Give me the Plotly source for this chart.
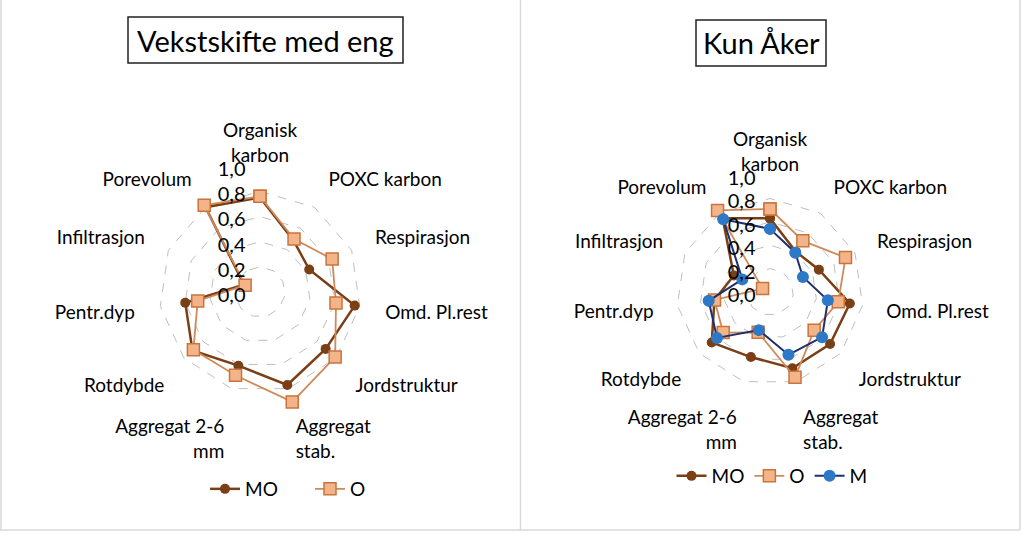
import plotly.graph_objects as go

categories = ["Organisk<br>karbon", "POXC karbon", "Respirasjon", "Omd. Pl.rest",
              "Jordstruktur", "Aggregat<br>stab.", "Aggregat 2-6<br>mm", "Rotdybde",
              "Pentr.dyp", "Infiltrasjon", "Porevolum"]

# Vekstskifte med eng
left_MO = [0.75, 0.49, 0.43, 0.76, 0.69, 0.77, 0.61, 0.71, 0.60, 0.14, 0.80]
left_O = [0.76, 0.50, 0.63, 0.61, 0.79, 0.91, 0.69, 0.70, 0.50, 0.13, 0.82]

# Kun Åker
right_MO = [0.63, 0.41, 0.46, 0.69, 0.68, 0.68, 0.58, 0.66, 0.48, 0.34, 0.75]
right_O = [0.71, 0.52, 0.71, 0.59, 0.50, 0.76, 0.36, 0.53, 0.48, 0.07, 0.83]
right_M = [0.54, 0.40, 0.31, 0.50, 0.59, 0.56, 0.34, 0.60, 0.53, 0.26, 0.74]

tick_vals = [0.0, 0.2, 0.4, 0.6, 0.8, 1.0]

FONT = "Lato"
C_MO = "#7B3F16"
C_O_LINE = "#D08A5A"
C_O_FILL = "#F4B48A"
C_O_EDGE = "#C8743C"
C_M_LINE = "#1F2F6B"
C_M_FILL = "#2E78C8"


def closed(vals):
    return list(vals) + [vals[0]]


def styles(name):
    if name == "MO":
        return dict(line=dict(color=C_MO, width=2.5),
                    marker=dict(symbol="circle", size=10, color=C_MO))
    if name == "O":
        return dict(line=dict(color=C_O_LINE, width=1.8),
                    marker=dict(symbol="square", size=12, color=C_O_FILL,
                                line=dict(color=C_O_EDGE, width=1.5)))
    return dict(line=dict(color=C_M_LINE, width=2),
                marker=dict(symbol="circle", size=12, color=C_M_FILL))


fig = go.Figure()
for name, vals in [("MO", left_MO), ("O", left_O)]:
    fig.add_trace(go.Scatterpolar(r=closed(vals), theta=closed(categories),
                                  mode="lines+markers", name=name, subplot="polar",
                                  legend="legend", **styles(name)))
for name, vals in [("MO", right_MO), ("O", right_O), ("M", right_M)]:
    fig.add_trace(go.Scatterpolar(r=closed(vals), theta=closed(categories),
                                  mode="lines+markers", name=name, subplot="polar2",
                                  legend="legend2", **styles(name)))

W, H = 1024, 535


def polar_layout(cx, cy, R):
    return dict(
        domain=dict(x=[(cx - R) / W, (cx + R) / W],
                    y=[(H - cy - R) / H, (H - cy + R) / H]),
        gridshape="linear",
        bgcolor="white",
        radialaxis=dict(range=[0, 1.001], tickvals=tick_vals, tickformat=".1f",
                        angle=90, side="counterclockwise", showline=False,
                        ticks="", showgrid=True, gridcolor="#BFBFBF", griddash="dash",
                        gridwidth=1, tickfont=dict(family=FONT, size=20, color="black")),
        angularaxis=dict(rotation=90, direction="clockwise", showgrid=False,
                         showline=False, ticks="",
                         tickfont=dict(family=FONT, size=19, color="black")),
    )


fig.update_layout(
    width=W, height=H,
    margin=dict(l=0, r=0, t=0, b=0),
    paper_bgcolor="white",
    separators=", ",
    font=dict(family=FONT, color="black"),
    polar=polar_layout(260, 292, 126),
    polar2=polar_layout(770, 292, 117),
    legend=dict(orientation="h", x=205 / W, xanchor="left", y=(H - 489) / H,
                yanchor="middle", entrywidth=60, entrywidthmode="pixels",
                font=dict(family=FONT, size=19), bgcolor="rgba(0,0,0,0)"),
    legend2=dict(orientation="h", x=772 / W, xanchor="center", y=(H - 476) / H,
                 yanchor="middle", font=dict(family=FONT, size=19), bgcolor="rgba(0,0,0,0)"),
    showlegend=True,
)

# panel frames
frame = dict(type="line", xref="paper", yref="paper", line=dict(color="#D9D9D9", width=1.5))
fig.add_shape(x0=1 / W, x1=1 / W, y0=(H - 530) / H, y1=1, **frame)
fig.add_shape(x0=520.5 / W, x1=520.5 / W, y0=(H - 530) / H, y1=1, **frame)
fig.add_shape(x0=1020 / W, x1=1020 / W, y0=(H - 530) / H, y1=1, **frame)
fig.add_shape(x0=0, x1=1020 / W, y0=(H - 530) / H, y1=(H - 530) / H, **frame)

# title boxes
box = dict(type="rect", xref="paper", yref="paper", line=dict(color="#222222", width=1.5),
           fillcolor="rgba(0,0,0,0)")
fig.add_shape(x0=128 / W, x1=403 / W, y0=(H - 63) / H, y1=(H - 17) / H, **box)
fig.add_shape(x0=696 / W, x1=826 / W, y0=(H - 66) / H, y1=(H - 20) / H, **box)
fig.add_annotation(text="Vekstskifte med eng", x=265.5 / W, y=(H - 40) / H, xref="paper",
                   yref="paper", xanchor="center", yanchor="middle", showarrow=False,
                   font=dict(family=FONT, size=29, color="black"))
fig.add_annotation(text="Kun Åker", x=761 / W, y=(H - 43) / H, xref="paper",
                   yref="paper", xanchor="center", yanchor="middle", showarrow=False,
                   font=dict(family=FONT, size=29, color="black"))

fig.write_html("out.html", config={"displayModeBar": False},
               post_script="document.body.style.margin='0';document.body.style.overflow='hidden';")
